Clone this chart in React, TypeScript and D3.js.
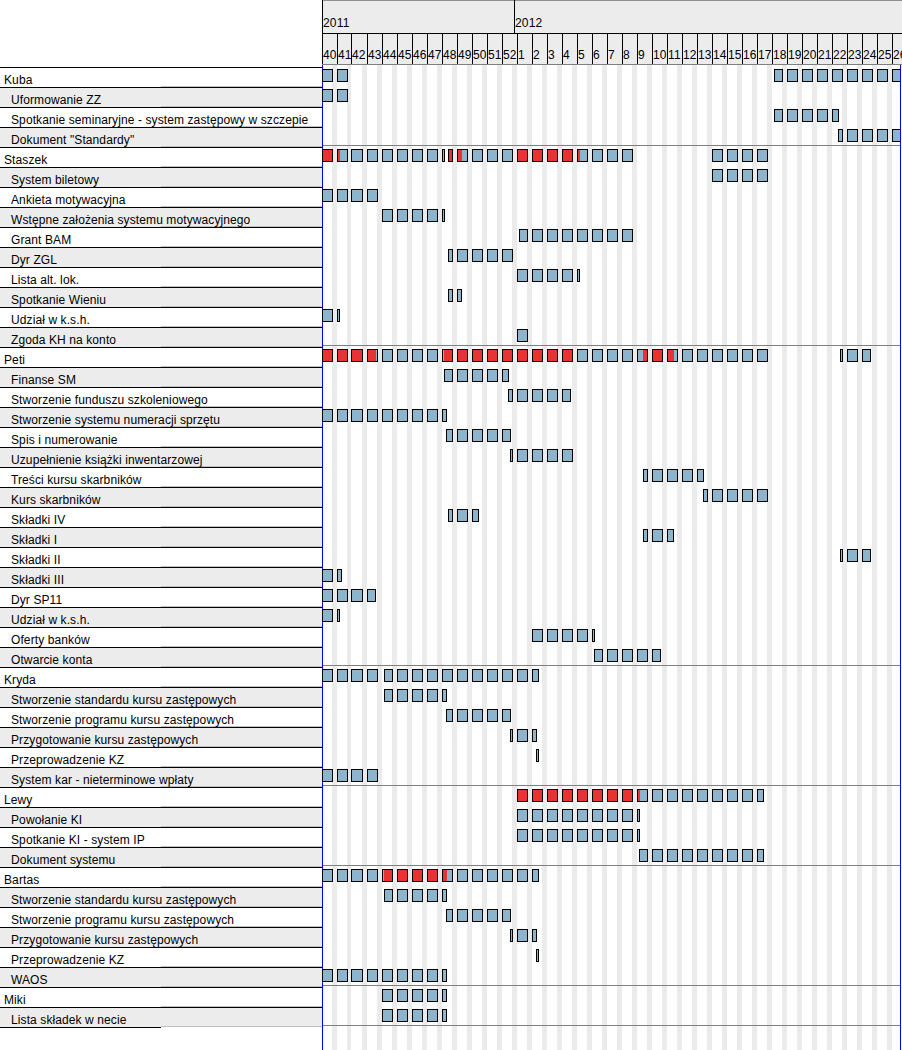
import React from "react";
import * as d3 from "d3";

const chartStart = "2011-10-03";
const chartEnd = "2012-07-02";
const yearLabels = ["2011", "2012"];
const yearStartDates = ["2011-10-03", "2012-01-01"];
const weekLabels = ["40","41","42","43","44","45","46","47","48","49","50","51","52","1","2","3","4","5","6","7","8","9","10","11","12","13","14","15","16","17","18","19","20","21","22","23","24","25","26"];

const resourceNames = ["Kuba", "Staszek", "Peti", "Kryda", "Lewy", "Bartas", "Miki"];

type Task = [string, string, string];
const kubaTasks: Task[] = [
  ["Uformowanie ZZ", "2011-10-03", "2011-10-14"],
  ["Spotkanie seminaryjne - system zastępowy w szczepie", "2012-05-01", "2012-05-30"],
  ["Dokument \"Standardy\"", "2012-05-31", "2012-07-13"],
];
const staszekTasks: Task[] = [
  ["System biletowy", "2012-04-02", "2012-04-27"],
  ["Ankieta motywacyjna", "2011-10-03", "2011-10-28"],
  ["Wstępne założenia systemu motywacyjnego", "2011-10-31", "2011-11-28"],
  ["Grant BAM", "2012-01-03", "2012-02-24"],
  ["Dyr ZGL", "2011-12-01", "2011-12-30"],
  ["Lista alt. lok.", "2012-01-02", "2012-01-30"],
  ["Spotkanie Wieniu", "2011-12-01", "2011-12-06"],
  ["Udział w k.s.h.", "2011-10-03", "2011-10-10"],
  ["Zgoda KH na konto", "2012-01-02", "2012-01-06"],
];
const petiTasks: Task[] = [
  ["Finanse SM", "2011-11-29", "2011-12-28"],
  ["Stworzenie funduszu szkoleniowego", "2011-12-29", "2012-01-26"],
  ["Stworzenie systemu numeracji sprzętu", "2011-10-03", "2011-11-29"],
  ["Spis i numerowanie", "2011-11-30", "2011-12-29"],
  ["Uzupełnienie książki inwentarzowej", "2011-12-30", "2012-01-27"],
  ["Treści kursu skarbników", "2012-03-01", "2012-03-28"],
  ["Kurs skarbników", "2012-03-29", "2012-04-27"],
  ["Składki IV", "2011-12-01", "2011-12-14"],
  ["Składki I", "2012-03-01", "2012-03-14"],
  ["Składki II", "2012-06-01", "2012-06-14"],
  ["Składki III", "2011-10-03", "2011-10-11"],
  ["Dyr SP11", "2011-10-03", "2011-10-27"],
  ["Udział w k.s.h.", "2011-10-03", "2011-10-10"],
  ["Oferty banków", "2012-01-09", "2012-02-06"],
  ["Otwarcie konta", "2012-02-07", "2012-03-08"],
];
const krydaTasks: Task[] = [
  ["Stworzenie standardu kursu zastępowych", "2011-11-01", "2011-11-29"],
  ["Stworzenie programu kursu zastępowych", "2011-11-30", "2011-12-29"],
  ["Przygotowanie kursu zastępowych", "2011-12-30", "2012-01-10"],
  ["Przeprowadzenie KZ", "2012-01-11", "2012-01-11"],
  ["System kar - nieterminowe wpłaty", "2011-10-03", "2011-10-28"],
];
const lewyTasks: Task[] = [
  ["Powołanie KI", "2012-01-02", "2012-02-27"],
  ["Spotkanie KI - system IP", "2012-01-02", "2012-02-27"],
  ["Dokument systemu", "2012-02-28", "2012-04-25"],
];
const bartasTasks: Task[] = [
  ["Stworzenie standardu kursu zastępowych", "2011-11-01", "2011-11-29"],
  ["Stworzenie programu kursu zastępowych", "2011-11-30", "2011-12-29"],
  ["Przygotowanie kursu zastępowych", "2011-12-30", "2012-01-10"],
  ["Przeprowadzenie KZ", "2012-01-11", "2012-01-11"],
  ["WAOS", "2011-10-03", "2011-11-29"],
];
const mikiTasks: Task[] = [
  ["Lista składek w necie", "2011-10-31", "2011-11-29"],
];
const taskLists = [kubaTasks, staszekTasks, petiTasks, krydaTasks, lewyTasks, bartasTasks, mikiTasks];

const W = 902;
const H = 1050;
const LEFT = 322;
const RIGHT = 900;
const TOP = 67;
const ROW = 20;
const FONT = "'Liberation Sans', Arial, sans-serif";
const BLUE = "#8cb4cc";
const RED = "#e83333";
const STRIPE = "#ebebeb";
const HEAD = "#ececec";

const parse = d3.utcParse("%Y-%m-%d");
const origin = parse(chartStart) as Date;
const x = d3.scaleUtc()
  .domain([origin, parse(chartEnd) as Date])
  .range([LEFT, LEFT + weekLabels.length * 15]);
const NDAYS = weekLabels.length * 7;
const dayX = (d: number) => x(d3.utcDay.offset(origin, d));
const dayIdx = (s: string) => d3.utcDay.count(origin, parse(s) as Date);

type Row = { name: string; group: boolean; loads: number[] };

function buildRows(): Row[] {
  const rows: Row[] = [];
  resourceNames.forEach((r, i) => {
    const total = new Array(NDAYS).fill(0);
    const kids: Row[] = taskLists[i].map(([name, s, e]) => {
      const arr = new Array(NDAYS).fill(0);
      for (let d = dayIdx(s); d <= dayIdx(e) && d < NDAYS; d++) {
        if (d >= 0 && d % 7 < 5) { arr[d] = 1; total[d] += 1; }
      }
      return { name, group: false, loads: arr };
    });
    rows.push({ name: r, group: true, loads: total });
    rows.push(...kids);
  });
  return rows;
}

function runs(loads: number[], pred: (v: number) => boolean) {
  const out: [number, number][] = [];
  let s = -1;
  for (let d = 0; d <= loads.length; d++) {
    const on = d < loads.length && pred(loads[d]);
    if (on && s < 0) s = d;
    if (!on && s >= 0) { out.push([s, d]); s = -1; }
  }
  return out;
}

export default function App() {
  const rows = buildRows();
  const nWeeks = weekLabels.length;
  const bottom = TOP + rows.length * ROW;

  return (
    <svg width={W} height={H} style={{ position: "fixed", left: 0, top: 0, background: "#fff" }}
      fontFamily={FONT} fontSize={12} shapeRendering="crispEdges">
      <defs>
        <clipPath id="chartClip"><rect x={LEFT} y={0} width={RIGHT - LEFT} height={H} /></clipPath>
        <clipPath id="headClip"><rect x={LEFT} y={0} width={W - LEFT} height={64} /></clipPath>
      </defs>
      <rect x={0} y={0} width={W} height={H} fill="#fff" />
      {/* weekend stripes */}
      <g clipPath="url(#chartClip)">
        {d3.range(nWeeks).map(k => {
          const xs = Math.floor(dayX(7 * k + 5));
          const xe = Math.floor(dayX(7 * k + 7));
          return <rect key={k} x={xs} y={65} width={xe - xs} height={H - 65} fill={STRIPE} />;
        })}
        {rows.map((r, i) => (r.group && i > 0 ? (
          <rect key={"sep" + i} x={LEFT} y={TOP + i * ROW - 2} width={RIGHT - LEFT} height={1} fill="#808080" />
        ) : null))}
        <rect x={LEFT} y={bottom - 2} width={RIGHT - LEFT} height={1} fill="#808080" />
      </g>
      <rect x={LEFT} y={65} width={1} height={H - 65} fill="#0000ff" />
      {/* bars */}
      <g clipPath="url(#chartClip)">
        {rows.map((r, i) => {
          const T = TOP + i * ROW;
          return (
            <g key={"b" + i}>
              {runs(r.loads, v => v > 0).map(([s, e], j) => {
                const x0 = Math.floor(dayX(s));
                const x1 = Math.floor(dayX(e));
                const reds = runs(r.loads.map((v, d) => (d >= s && d < e ? v : 0)), v => v > 1);
                return (
                  <g key={j}>
                    <rect x={x0} y={T + 2} width={x1 - x0 + 1} height={13} fill={BLUE} />
                    {reds.map(([rs, re], q) => {
                      const rx0 = Math.floor(dayX(rs));
                      const rx1 = Math.floor(dayX(re));
                      return <rect key={q} x={rx0} y={T + 2} width={rx1 - rx0 + 1} height={13} fill={RED} />;
                    })}
                    <rect x={x0 + 0.5} y={T + 2.5} width={x1 - x0} height={12} fill="none" stroke="#000" strokeWidth={1} />
                  </g>
                );
              })}
            </g>
          );
        })}
      </g>
      <rect x={RIGHT} y={65} width={1} height={H - 65} fill="#0000ff" />
      {/* header */}
      <g>
        <rect x={LEFT} y={0} width={W - LEFT} height={64} fill={HEAD} />
        <rect x={LEFT} y={0} width={W - LEFT} height={1} fill="#909090" />
        <rect x={LEFT} y={33} width={W - LEFT} height={1} fill="#000" />
        <rect x={LEFT} y={64} width={W - LEFT} height={1} fill="#808080" />
        {yearStartDates.map((ds, i) => {
          const xx = Math.floor(x(parse(ds) as Date));
          return (
            <g key={"y" + i}>
              <rect x={xx} y={0} width={1} height={33} fill="#000" />
              <text x={xx + 1} y={27} fill="#000" letterSpacing={0.2}>{yearLabels[i]}</text>
            </g>
          );
        })}
        <g clipPath="url(#headClip)">
          {weekLabels.map((lab, k) => {
            const xx = Math.floor(dayX(7 * k));
            return (
              <g key={"w" + k}>
                <rect x={xx} y={33} width={1} height={31} fill="#000" />
                <text x={xx + 1} y={59} fill="#000" letterSpacing={0.2}>{lab}</text>
              </g>
            );
          })}
        </g>
      </g>
      {/* left table */}
      <g>
        {rows.map((r, i) => {
          const T = TOP + i * ROW;
          return (
            <g key={"t" + i}>
              <rect x={0} y={T} width={LEFT} height={ROW} fill={i % 2 === 1 ? HEAD : "#fff"} />
              <rect x={0} y={T} width={LEFT} height={1} fill="#000" />
              <rect x={161} y={T + ROW - 1} width={LEFT - 161} height={1} fill="#c0c0c0" />
              <text x={r.group ? 4 : 11} y={T + 17} fill="#000" letterSpacing={0.1} shapeRendering="auto">{r.name}</text>
            </g>
          );
        })}
        <rect x={0} y={bottom} width={161} height={1} fill="#000" />
      </g>
    </svg>
  );
}
